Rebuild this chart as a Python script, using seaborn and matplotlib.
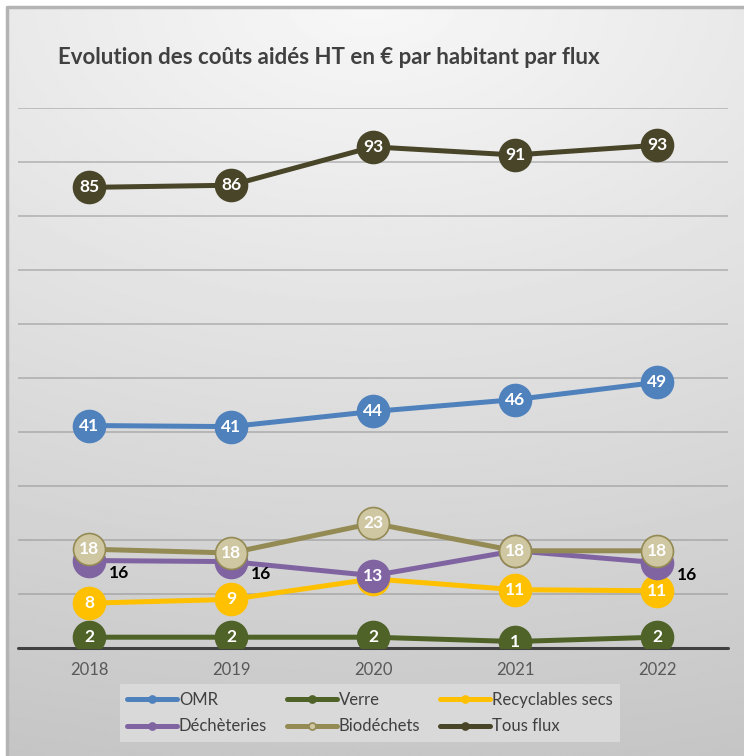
import numpy as np
import pandas as pd
import seaborn as sns
import matplotlib.pyplot as plt

# values (positions), labels are rounded values
years = [2018, 2019, 2020, 2021, 2022]
omr = [41.2, 41.0, 43.8, 46.0, 49.2]
verre = [2.0, 2.0, 2.0, 1.2, 2.0]
recyclables = [8.3, 9.0, 12.8, 10.8, 10.6]
decheteries = [16.2, 16.0, 13.4, 18.0, 15.8]
biodechets = [18.3, 17.6, 23.1, 18.0, 18.0]
tous_flux = [85.3, 85.7, 92.8, 91.3, 93.1]

series_names = ["OMR", "Verre", "Recyclables secs", "Déchèteries", "Biodéchets", "Tous flux"]
series_values = [omr, verre, recyclables, decheteries, biodechets, tous_flux]
colors = ["#4F81BD", "#4F6228", "#FFC000", "#8064A2", "#948A54", "#494529"]
face_colors = ["#4F81BD", "#4F6228", "#FFC000", "#8064A2", "#CFC6A2", "#494529"]

title = "Evolution des coûts aidés HT en € par habitant par flux"

df = pd.DataFrame({"year": years * len(series_names),
                   "value": sum(series_values, []),
                   "flux": np.repeat(series_names, len(years))})

sns.set_style("white")
plt.rcParams["font.family"] = ["Lato", "DejaVu Sans"]

fig = plt.figure(figsize=(7.44, 7.56), dpi=100)

# background gradient (light at top, grey at bottom)
bg = fig.add_axes([0, 0, 1, 1], zorder=-10)
yy, xx = np.mgrid[0:1:300j, 0:1:300j]
dist = np.sqrt(((xx - 0.5) * 0.6) ** 2 + (yy * 1.0) ** 2)
shade = 0.97 - 0.19 * np.clip(dist, 0, 1.05)
bg.imshow(shade, cmap="gray", vmin=0, vmax=1, extent=[0, 1, 0, 1], origin="upper", aspect="auto")
bg.plot([0.009, 0.009, 1.0], [0.0, 0.991, 0.991], color="#b4b4b4", lw=2.5, transform=bg.transAxes)
bg.fill_between([0, 1], 0.991, 1.0, color="white")
bg.fill_between([0, 0.008], 0, 1.0, color="white")
bg.set_xlim(0, 1)
bg.set_ylim(0, 1)
bg.axis("off")

ax = fig.add_axes([18 / 744, 1 - 648 / 756, 710 / 744, 540 / 756])
ax.patch.set_alpha(0)

# labels shown beside the marker instead of inside it
outside = {"Déchèteries": [2018, 2019, 2022]}

for i, (name, vals) in enumerate(zip(series_names, series_values)):
    sub = df[df["flux"] == name]
    sns.lineplot(data=sub, x="year", y="value", ax=ax, color=colors[i], linewidth=3.6,
                 marker="o", markersize=23, markerfacecolor=face_colors[i],
                 markeredgecolor=colors[i], markeredgewidth=1.2, label=name, zorder=3 + i)
    for x, v in zip(years, vals):
        lab = f"{v:.0f}"
        if x in outside.get(name, []):
            ax.annotate(lab, (x, v), xytext=(14, -9), textcoords="offset points",
                        ha="left", va="center", fontsize=12.5, fontweight="bold",
                        color="black", zorder=20)
        else:
            ax.text(x, v, lab, ha="center", va="center", fontsize=12.5, fontweight="bold",
                    color="white", zorder=3 + i + 0.5)

ax.set_xlim(2017.5, 2022.5)
ax.set_ylim(0, 100)
ax.set_xticks(years)
ax.set_xticklabels([str(y) for y in years], fontsize=12, color="#595959")
ax.set_yticks([])
ax.set_xlabel("")
ax.set_ylabel("")
for y in range(10, 101, 10):
    ax.axhline(y, color="#8c8c8c", lw=1.2, alpha=0.55, zorder=1)
ax.axhline(0, color="#404040", lw=2.2, zorder=2, clip_on=False)
ax.tick_params(axis="x", length=0, pad=10)
sns.despine(ax=ax, left=True, bottom=True)

handles, labels = ax.get_legend_handles_labels()
order = [0, 3, 1, 4, 2, 5]
leg = ax.legend([handles[k] for k in order], [labels[k] for k in order], ncol=3,
                loc="center", bbox_to_anchor=(370 / 744, 1 - 713 / 756),
                bbox_transform=fig.transFigure, frameon=True, fontsize=12,
                handlelength=3.0, columnspacing=1.2, handletextpad=0.1,
                labelspacing=0.65, borderpad=0.45, markerscale=0.22, fancybox=False)
leg.get_frame().set_facecolor("#d9d9d9")
leg.get_frame().set_edgecolor("none")
leg.get_frame().set_alpha(1)
for t in leg.get_texts():
    t.set_color("#404040")

fig.text(58 / 744, 1 - 57 / 756, title, fontsize=16, fontweight="bold", color="#404040",
         ha="left", va="center")

plt.savefig("out.png", dpi=100)
